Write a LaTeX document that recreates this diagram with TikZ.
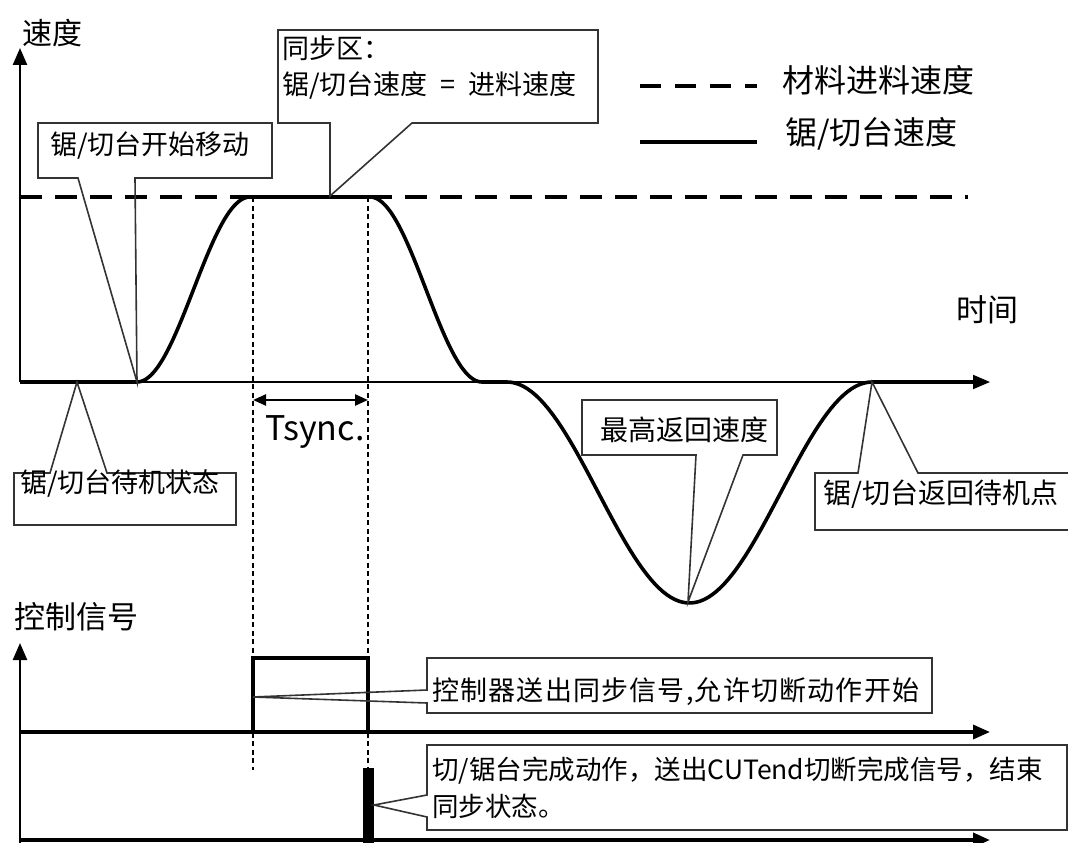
\documentclass[tikz,border=0pt]{standalone}
\usepackage{fontspec}
\newfontfamily\cjk{Noto Sans CJK SC}
\newfontfamily\cjksp{Noto Sans CJK SC}[LetterSpace=4.5]
\usetikzlibrary{arrows.meta}
\newcommand{\fsz}[1]{\fontsize{#1}{#1}\selectfont}
\begin{document}
\begin{tikzpicture}[x=1pt,y=-1pt,
  txt/.style={font=\cjk\fsz{#1}, inner sep=0pt, anchor=west},
  txt/.default=28,
  txtsp/.style={font=\cjksp\fsz{#1}, inner sep=0pt, anchor=west},
  callout/.style={draw=black!80, line width=1.6pt, line join=miter},
  curve/.style={line width=3.6pt, line join=round},
  axisarrow/.style={line width=2.4pt, -{Triangle[length=17pt,width=14pt]}},
  sigline/.style={line width=3.4pt},
  feed/.style={line width=4pt, dash pattern=on 22pt off 13pt},
  guide/.style={line width=1.3pt, dash pattern=on 5pt off 3.5pt},
]
\useasboundingbox (0,0) rectangle (1068,843);

% ---------- coordinates ----------
\coordinate (o1) at (20,382);
\coordinate (ytop1) at (20,48);
\coordinate (xend1) at (990,382);
\coordinate (o2) at (20,732);
\coordinate (ybot2) at (20,843);
\coordinate (ytop2) at (20,643);
\coordinate (xend2) at (990,732);
\coordinate (o3) at (20,840);
\coordinate (xend3) at (990,840);
\coordinate (feedA) at (20,197);
\coordinate (feedB) at (968,197);
\coordinate (gA1) at (253,197);
\coordinate (gA2) at (253,770);
\coordinate (gB1) at (368,197);
\coordinate (gB2) at (368,770);
\coordinate (ts1) at (253,400);
\coordinate (ts2) at (368,400);

% ---------- feed speed (dashed) and guides ----------
\draw[feed] (feedA) -- (feedB);
\draw[guide] (gA1) -- (gA2);
\draw[guide] (gB1) -- (gB2);

% ---------- axes ----------
\draw[axisarrow] (o1) -- (ytop1);
\draw[axisarrow, line width=2pt] (o1) -- (xend1);
\draw[axisarrow] (ybot2) -- (ytop2);
\draw[axisarrow, line width=3.4pt] (o2) -- (xend2);
\draw[axisarrow, line width=3.8pt] (o3) -- (xend3);

% ---------- saw / cutter speed curve ----------
\draw[curve] (20,382) -- (137,382)
  -- plot[domain=0:1,samples=50] ({137+113*\x},{382-92.5*(1-cos(180*\x))})
  -- (370,197)
  -- plot[domain=0:1,samples=50] ({370+112*\x},{197+92.5*(1-cos(180*\x))})
  -- (507,382)
  -- plot[domain=0:1,samples=90] ({507+365*\x},{382+110.5*(1-cos(360*\x))})
  -- (975,382);

% ---------- Tsync ----------
\draw[line width=2.4pt, {Triangle[length=13pt,width=11pt]}-{Triangle[length=13pt,width=11pt]}] (ts1) -- (ts2);
\node[txt=34] (tsync) at (265,432) {Tsync.};

% ---------- control signal ----------
\draw[sigline, line join=miter] (253,732) -- (253,658) -- (368,658) -- (368,732);
\fill (363,768) rectangle (374,843);

% ---------- axis labels ----------
\node[txt=30] (vlab) at (22,33) {速度};
\node[txt=31] (tlab) at (956,310) {时间};
\node[txt=31] (clab) at (14,617) {控制信号};

% ---------- legend ----------
\coordinate (lg1a) at (640,86);
\coordinate (lg1b) at (757,86);
\coordinate (lg2a) at (640,142);
\coordinate (lg2b) at (757,142);
\draw[feed, dash pattern=on 21pt off 14pt] (lg1a) -- (lg1b);
\draw[line width=4pt] (lg2a) -- (lg2b);
\node[txt=32] (leg1) at (782,80) {材料进料速度};
\node[txt=32] (leg2) at (785,134) {锯/切台速度};

% ---------- callouts ----------
% 1: start moving
\coordinate (tip1) at (137,382);
\draw[callout] (38,123) -- (272,123) -- (272,178) -- (135,178) -- (tip1) -- (78,178) -- (38,178) -- cycle;
\node[txt=27] (c1) at (50,146) {锯/切台开始移动};

% 2: sync zone
\coordinate (tip2) at (330,196);
\draw[callout] (278,30) -- (598,30) -- (598,123) -- (412,123) -- (tip2) -- (330,123) -- (278,123) -- cycle;
\node[txt=27] (c2a) at (282,48) {同步区：};
\node[txt=27] (c2b) at (282,86) {锯/切台速度\hspace{13pt}=\hspace{13pt}进料速度};

% 3: standby
\coordinate (tip3) at (77,382);
\draw[callout] (14,473) -- (50,473) -- (tip3) -- (107,473) -- (236,473) -- (236,525) -- (14,525) -- cycle;
\node[txt=27] (c3) at (20,484) {锯/切台待机状态};

% 4: max return speed
\coordinate (tip4) at (688,602);
\draw[callout] (582,400) -- (777,400) -- (777,455) -- (743,455) -- (tip4) -- (696,455) -- (582,455) -- cycle;
\node[txt=28] (c4) at (600,430) {最高返回速度};

% 5: return to standby point
\coordinate (tip5) at (872,382);
\draw[callout] (815,473) -- (858,473) -- (tip5) -- (918,473) -- (1080,473) -- (1080,530) -- (815,530) -- cycle;
\node[txt=28] (c5) at (823,494) {锯/切台返回待机点};

% 6: sync signal
\coordinate (tip6) at (253,697);
\draw[callout] (427,658) -- (932,658) -- (932,713) -- (427,713) -- (427,703) -- (tip6) -- (427,690) -- cycle;
\node[txtsp=27] (c6) at (432,692) {控制器送出同步信号,允许切断动作开始};

% 7: CUTend
\coordinate (tip7) at (374,805);
\draw[callout] (427,745) -- (1067,745) -- (1067,830) -- (427,830) -- (427,817) -- (tip7) -- (427,795) -- cycle;
\node[txt=26.5] (c7a) at (432,771) {切/锯台完成动作，送出CUTend切断完成信号，结束};
\node[txt=26.5] (c7b) at (432,806) {同步状态。};
\end{tikzpicture}
\end{document}
